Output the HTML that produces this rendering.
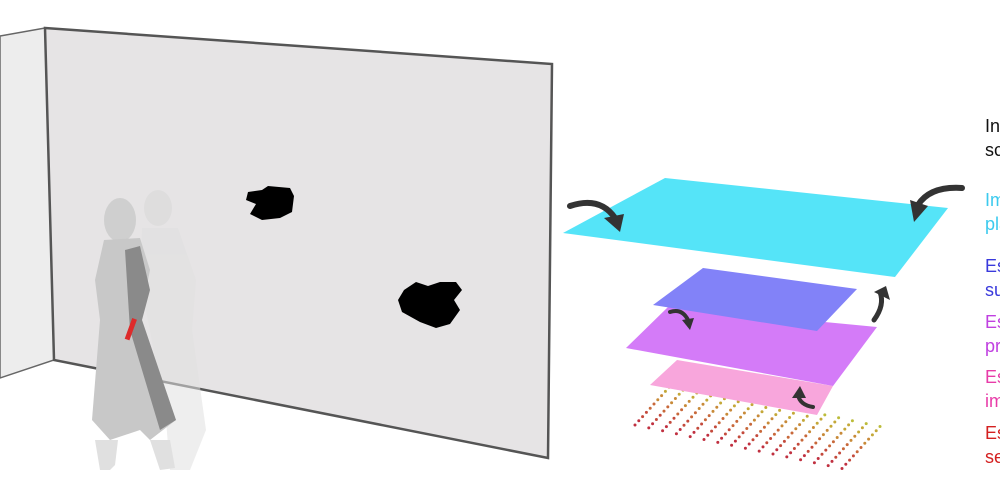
<!DOCTYPE html>
<html><head><meta charset="utf-8"><style>
html,body{margin:0;padding:0;background:#fff;overflow:hidden}
svg{display:block}
text{font-family:"Liberation Sans",sans-serif;font-size:18px}
</style></head><body>
<svg width="1000" height="500" viewBox="0 0 1000 500">
<g>
<polygon points="0,36 45,28 54,360 0,378" fill="#ededed" stroke="#666" stroke-width="1.5"/>
<polygon points="45,28 552,64 548,458 54,360" fill="#e6e4e5" stroke="#555" stroke-width="2.5"/>
</g>
<g>
<path d="M248,192 L262,190 L268,186 L290,188 L294,196 L292,212 L280,218 L262,220 L250,214 L256,204 L246,200 Z" fill="#000"/>
<path d="M404,290 L416,282 L428,286 L440,282 L456,282 L462,290 L454,300 L460,310 L450,324 L436,328 L420,322 L402,312 L398,300 Z" fill="#000"/>
</g>
<g opacity="0.55">
<ellipse cx="158" cy="208" rx="14" ry="18" fill="#d8d8d8"/>
<polygon points="142,228 178,228 196,280 192,330 206,430 190,470 170,470 166,420 150,330 140,280" fill="#e0e0e0"/>
</g>
<g>
<ellipse cx="120" cy="220" rx="16" ry="22" fill="#cfcfcf"/>
<polygon points="104,240 140,238 150,270 140,320 176,420 150,440 140,430 110,440 92,420 100,320 95,280" fill="#c8c8c8"/>
<polygon points="125,250 140,246 150,290 142,320 176,420 160,430 130,330" fill="#8a8a8a"/>
<polygon points="95,440 118,440 115,465 110,470 100,470" fill="#e0e0e0"/>
<polygon points="150,440 170,440 175,468 160,470" fill="#e0e0e0"/>
<rect x="128" y="318" width="5" height="22" fill="#dd2a2a" transform="rotate(20 130 330)"/>
</g>
<g>
<g id="dots"></g>
<polygon points="650,385 677,360 833,386 817,415" fill="#f8a6dc"/>
<polygon points="626,348 668,307 877,327 833,386" fill="#d47bf8"/>
<polygon points="653,305 703,268 857,289 817,331" fill="#8282f8"/>
<polygon points="563,233 665,178 948,208 895,277" fill="#55e4f8"/>
</g>
<g fill="none" stroke="#333" stroke-width="6" stroke-linecap="round">
<path d="M570,206 Q600,196 615,218"/>
<polygon points="604,218 624,214 620,232" fill="#333" stroke="none"/>
<path d="M962,188 Q930,186 918,205"/>
<polygon points="910,200 928,206 914,222" fill="#333" stroke="none"/>
<path d="M874,320 Q885,305 880,292" stroke-width="5"/>
<polygon points="874,292 886,286 890,300" fill="#333" stroke="none"/>
<path d="M670,312 Q682,308 688,320" stroke-width="4"/>
<polygon points="682,320 694,318 690,330" fill="#333" stroke="none"/>
<path d="M813,407 Q800,405 798,395" stroke-width="4"/>
<polygon points="792,398 800,386 806,398" fill="#333" stroke="none"/>
</g>
<g>
<text x="985" y="132" fill="#111">Input</text>
<text x="985" y="156" fill="#111">scene</text>
<text x="985" y="206" fill="#3ccaee">Image</text>
<text x="985" y="230" fill="#3ccaee">plane</text>
<text x="985" y="272" fill="#3a3adc">Estimate</text>
<text x="985" y="296" fill="#3a3adc">surface</text>
<text x="985" y="328" fill="#c040e0">Estimate</text>
<text x="985" y="352" fill="#c040e0">projection</text>
<text x="985" y="383" fill="#e83ca8">Estimate</text>
<text x="985" y="407" fill="#e83ca8">image</text>
<text x="985" y="439" fill="#d42020">Estimate</text>
<text x="985" y="463" fill="#d42020">sensors</text>
</g>
</svg>
<script>
const g=document.getElementById('dots');
const NS='http://www.w3.org/2000/svg';
const cols=['#c03040','#c44a3c','#c8683a','#c88a38','#c4a838','#bcbc3a'];
for(let c=0;c<16;c++){
  for(let r=0;r<11;r++){
    const x=635+c*13.8+r*3.8, y=425+c*2.9-r*4.2;
    const e=document.createElementNS(NS,'circle');
    
    
    e.setAttribute('cx',x.toFixed(1));e.setAttribute('cy',y.toFixed(1));e.setAttribute('r','1.5');
    e.setAttribute('fill',cols[Math.min(5,Math.floor(r/2))]);
    g.appendChild(e);
  }
}
</script>
</body></html>
